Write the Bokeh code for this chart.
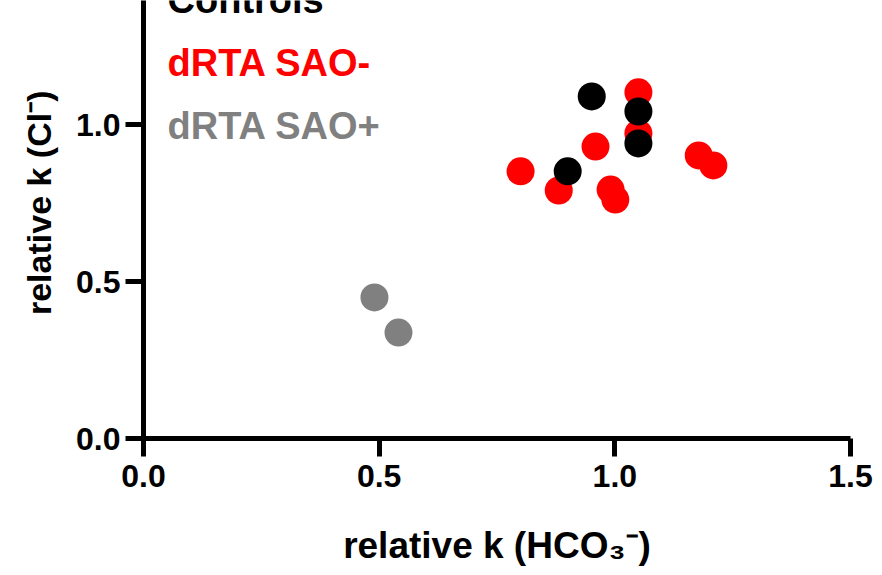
from bokeh.plotting import figure
from bokeh.models import FixedTicker, Range1d, PrintfTickFormatter, Title
from bokeh.core.properties import value
from bokeh.embed import file_html
from bokeh.resources import INLINE

# Data
ctrl_x = [0.951, 1.050, 1.050, 0.900]
ctrl_y = [1.091, 1.043, 0.941, 0.852]
neg_x = [1.050, 1.050, 0.959, 0.800, 0.881, 0.991, 1.001, 1.178, 1.209]
neg_y = [1.104, 0.973, 0.931, 0.852, 0.791, 0.794, 0.762, 0.903, 0.871]
pos_x = [0.490, 0.541]
pos_y = [0.450, 0.338]

legend_labels = ["Controls", "dRTA SAO-", "dRTA SAO+"]
legend_colors = ["#000000", "#FF0000", "#808080"]
legend_x = [0.051, 0.051, 0.051]
legend_y = [1.400, 1.199, 0.998]

x_ticks = [0.0, 0.5, 1.0, 1.5]
y_ticks = [0.0, 0.5, 1.0]

x_title = "relative k (HCO\u2083\u207b)"
y_title = "relative k (Cl\u207b)"

FONT = "Liberation Sans"

p = figure(width=882, height=575, output_backend="svg", toolbar_location=None,
           x_range=Range1d(0, 1.5), y_range=Range1d(0, 1.397),
           min_border_left=143, min_border_right=32, min_border_top=0,
           min_border_bottom=137)
p.outline_line_color = None
p.grid.visible = False
p.background_fill_color = "white"
p.border_fill_color = "white"

p.scatter(neg_x, neg_y, size=28, color="#FF0000", line_color=None)
p.scatter(pos_x, pos_y, size=28, color="#808080", line_color=None)
p.scatter(ctrl_x, ctrl_y, size=28, color="#000000", line_color=None)

p.text(legend_x, legend_y, text=legend_labels, text_color=legend_colors,
       text_font=value(FONT), text_font_style="bold", text_font_size="38px",
       text_baseline="alphabetic", text_align="left")

for ax in (p.xaxis[0], p.yaxis[0]):
    ax.axis_line_width = 5
    ax.axis_line_color = "black"
    ax.major_tick_line_width = 5
    ax.major_tick_line_color = "black"
    ax.major_tick_out = 18
    ax.major_tick_in = 0
    ax.minor_tick_line_color = None
    ax.major_label_text_font = FONT
    ax.major_label_text_font_style = "bold"
    ax.major_label_text_font_size = "32px"
    ax.major_label_text_color = "black"
    ax.axis_label_text_font = FONT
    ax.axis_label_text_font_style = "bold"
    ax.axis_label_text_font_size = "37px"
    ax.axis_label_text_color = "black"
    ax.formatter = PrintfTickFormatter(format="%.1f")

p.xaxis[0].ticker = FixedTicker(ticks=x_ticks)
p.yaxis[0].ticker = FixedTicker(ticks=y_ticks)
p.xaxis[0].major_label_standoff = 8
p.yaxis[0].major_label_standoff = 5
p.xaxis[0].axis_label = x_title
p.xaxis[0].axis_label_standoff = 35

# y-axis title as a left-side title; its end is placed 90 px below the frame top
ytitle = Title(text=y_title, align="right", offset=90, standoff=28,
               vertical_align="top",
               text_font=FONT, text_font_style="bold", text_font_size="34px",
               text_color="black")
p.add_layout(ytitle, "left")

open("out.html", "w").write(file_html(p, INLINE))
